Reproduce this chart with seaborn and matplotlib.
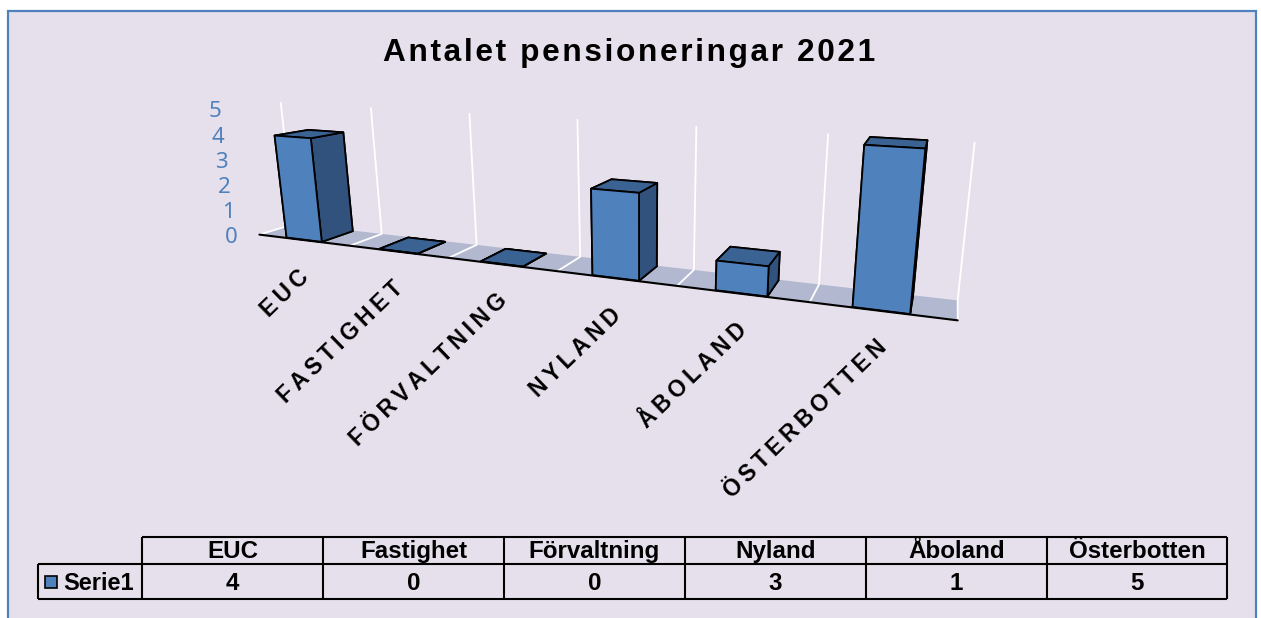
import matplotlib
matplotlib.use('Agg')
import matplotlib.pyplot as plt
import numpy as np
import seaborn as sns
from matplotlib.patches import Rectangle
from mpl_toolkits.mplot3d import proj3d
from mpl_toolkits.mplot3d.art3d import Poly3DCollection

# Chart data
CATEGORIES = ['EUC', 'Fastighet', 'Förvaltning', 'Nyland', 'Åboland', 'Österbotten']
AXIS_LABELS = ['EUC', 'FASTIGHET', 'FÖRVALTNING', 'NYLAND', 'ÅBOLAND', 'ÖSTERBOTTEN']
VALUES = [4, 0, 0, 3, 1, 5]
Z_TICKS = [0, 1, 2, 3, 4, 5]
SERIES_NAME = 'Serie1'
TITLE = 'Antalet pensioneringar 2021'

W, H = 1261, 618
FONT = ['Liberation Sans', 'DejaVu Sans']
TICK_FONT = ['Noto Sans', 'DejaVu Sans']

sns.set_theme(style='white')
plt.rcParams['font.family'] = FONT

front, side, top = sns.color_palette(['#4F81BD', '#30527D', '#3A6394'])
floor_color = '#B2B8CF'
panel_color = '#E6E0EC'
tick_color = '#4F81BD'


def tracked(text, gap='\u200a'):
    """Open up the letter spacing, the original title and labels are set wide."""
    return gap.join(text)


fig = plt.figure(figsize=(W / 100, H / 100), dpi=100, facecolor='white')

# Pixel axes for the panel, swatch and table
bg = fig.add_axes([0, 0, 1, 1], zorder=0)
bg.set_xlim(0, W)
bg.set_ylim(H, 0)
bg.axis('off')
bg.add_patch(Rectangle((8, 11), 1248, 640, facecolor=panel_color, edgecolor='#4F81BD', linewidth=1.6))
bg.text(629, 53, tracked(TITLE), ha='center', va='center', fontsize=22.8, fontweight='bold', color='black')

# 3D chart, camera worked out from the vanishing points of the reference
axes_px = 1047
left_px, bottom_px = 142, -145
ax = fig.add_axes([left_px / W, bottom_px / H, axes_px / W, axes_px / H], projection='3d',
                  zorder=1, computed_zorder=False)
ax.set_proj_type('persp', focal_length=0.1401)
ax.view_init(elev=14.7, azim=-71.5, roll=-0.74)
ax.set_xlim(-0.036, 7.964)
ax.set_ylim(-0.148, 0.452)
ax.set_zlim(-1.396, 5.144)
ax.set_box_aspect((8, 0.6, 1.5))
ax.set_axis_off()
ax.patch.set_visible(False)

n = len(VALUES)
depth = 0.416
z_top = Z_TICKS[-1]

floor = Poly3DCollection([[(0, 0, 0), (n, 0, 0), (n, depth, 0), (0, depth, 0)]],
                         facecolor=floor_color, edgecolor='none', zorder=1)
ax.add_collection3d(floor)

# White grid lines, across the floor and up the back wall
for i in range(n + 1):
    ax.plot([i, i, i], [0, depth, depth], [0, 0, z_top], color='white', lw=1.3, zorder=2)

xpos = np.arange(n) + 0.3
faces = [top, top, front, side, side, side]
ax.bar3d(xpos, np.full(n, 0.01), np.zeros(n), 0.39, 0.39, VALUES,
         color=faces * n, shade=False, edgecolor='black', linewidth=1.3, zorder=3)

ax.plot([0, n], [0, 0], [0, 0], color='black', lw=1.5, zorder=4)


def label_at(x, z, text, offset, **kwargs):
    """Put 2D text next to a point of the 3D chart (3D text can't be rotated freely)."""
    px, py, _ = proj3d.proj_transform(x, 0, z, ax.get_proj())
    ax.annotate(text, (px, py), xytext=offset, textcoords='offset points',
                annotation_clip=False, **kwargs)


for tick in Z_TICKS:
    label_at(-0.23, tick, str(tick), (-1.5, -3.5), ha='right', va='center', fontsize=16,
             color=tick_color, family=TICK_FONT)

for i, label in enumerate(AXIS_LABELS):
    label_at(i + 0.5, 0, tracked(label, '\u2009'), (-4.5, -18), rotation=44, rotation_mode='anchor',
             ha='right', va='top', fontsize=16.4, fontweight='bold', color='black')

# Data table under the chart
col_edges = [38, 142, 323, 504, 685, 866, 1047, 1227]
table_top, header_bottom, table_bottom = 537, 564, 599
bg.hlines(table_top, col_edges[1], col_edges[-1], color='black', lw=1.5)
bg.hlines([header_bottom, table_bottom], col_edges[0], col_edges[-1], color='black', lw=1.5)
bg.vlines(col_edges[0], header_bottom, table_bottom, color='black', lw=1.5)
bg.vlines(col_edges[1:], table_top, table_bottom, color='black', lw=1.5)

for i, (category, value) in enumerate(zip(CATEGORIES, VALUES)):
    center = (col_edges[i + 1] + col_edges[i + 2]) / 2
    bg.text(center, (table_top + header_bottom) / 2 + 1, category, ha='center', va='center',
            fontsize=17.4, fontweight='bold', color='black')
    bg.text(center, (header_bottom + table_bottom) / 2 + 2, str(value), ha='center', va='center',
            fontsize=17.4, fontweight='bold', color='black')

bg.add_patch(Rectangle((45, 576), 12, 12, facecolor=front, edgecolor='black', linewidth=1.2, zorder=5))
bg.text(63, (header_bottom + table_bottom) / 2 + 2, SERIES_NAME, ha='left', va='center',
        fontsize=17, fontweight='bold', color='black')

fig.savefig('out.png', dpi=100)
